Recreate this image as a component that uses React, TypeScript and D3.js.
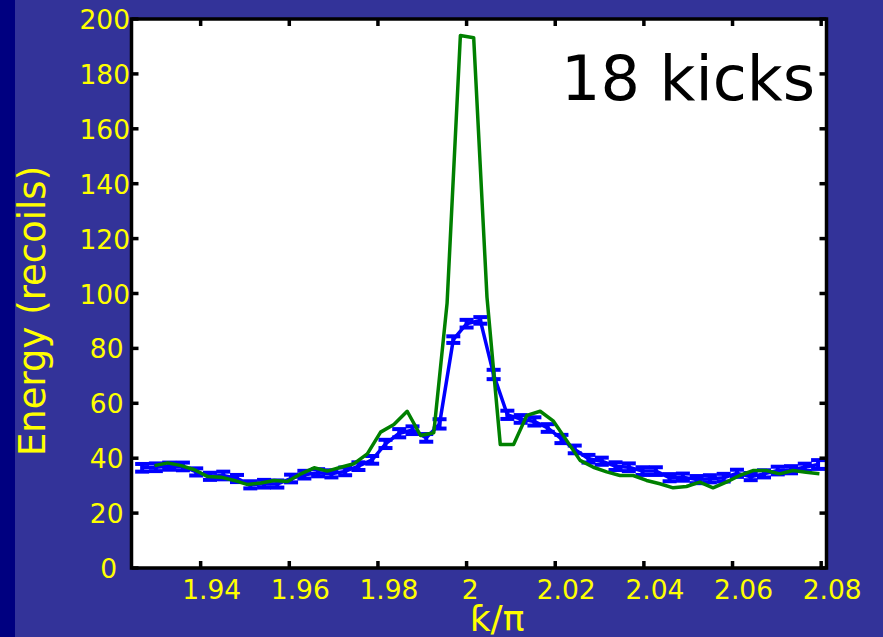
import React, { useRef, useEffect } from "react";
import * as d3 from "d3";

// measured data (blue, with error bars)
const blueKappa = [
  1.9268, 1.9299, 1.9329, 1.936, 1.939, 1.9421, 1.9451, 1.9482, 1.9512, 1.9543,
  1.9573, 1.9604, 1.9634, 1.9665, 1.9695, 1.9726, 1.9756, 1.9787, 1.9817, 1.9848,
  1.9878, 1.9909, 1.9939, 1.997, 2.0, 2.0031, 2.0061, 2.0092, 2.0122, 2.0153,
  2.0183, 2.0214, 2.0244, 2.0275, 2.0305, 2.0336, 2.0366, 2.0397, 2.0427, 2.0458,
  2.0488, 2.0519, 2.0549, 2.058, 2.061, 2.0641, 2.0671, 2.0702, 2.0732, 2.0763,
  2.0793,
];
const blueEnergy = [
  36.5, 36.7, 37.1, 37, 35, 33.4, 33.7, 32.6, 30.3, 30.7,
  30.6, 32.6, 34, 34.7, 34.3, 35.2, 37.1, 39.4, 45.2, 49.1,
  50.2, 47.4, 52.5, 83.2, 89, 90.2, 70.5, 55.8, 54.3, 53.4,
  51, 47, 43.2, 39.8, 38.9, 37.1, 36.7, 35.3, 35.3, 32.9,
  33.1, 32.2, 32.5, 32.9, 34.5, 33.3, 34.3, 35.5, 35.8, 36.7,
  37.7,
];
const blueError = [
  1.4, 1.4, 1.3, 1.4, 1.3, 1.3, 1.4, 1.3, 1.3, 1.4,
  1.3, 1.4, 1.4, 1.3, 1.3, 1.4, 1.4, 1.4, 1.5, 1.5,
  1.4, 1.4, 1.7, 1.2, 1.4, 1.2, 1.7, 1.5, 1.4, 1.5,
  1.4, 1.5, 1.4, 1.4, 1.3, 1.4, 1.4, 1.4, 1.4, 1.3,
  1.3, 1.3, 1.3, 1.4, 1.3, 1.3, 1.3, 1.4, 1.3, 1.3,
  1.6,
];

// simulation (green line)
const greenKappa = [
  1.9296, 1.9326, 1.9356, 1.9386, 1.9416, 1.9446, 1.9476, 1.9506, 1.9536, 1.9566,
  1.9596, 1.9626, 1.9656, 1.9686, 1.9716, 1.9746, 1.9776, 1.9806, 1.9836, 1.9866,
  1.9896, 1.9926, 1.9956, 1.9986, 2.0016, 2.0046, 2.0076, 2.0106, 2.0136, 2.0166,
  2.0196, 2.0226, 2.0256, 2.0286, 2.0316, 2.0346, 2.0376, 2.0406, 2.0436, 2.0466,
  2.0496, 2.0526, 2.0556, 2.0586, 2.0616, 2.0646, 2.0676, 2.0706, 2.0736, 2.0766,
  2.0796,
];
const greenEnergy = [
  37.3, 38.3, 37.3, 35.8, 33.3, 33.1, 31.9, 30.4, 31, 31.9,
  31.5, 34.3, 36.5, 35.3, 36.7, 38, 41.6, 49.5, 52.3, 57.1,
  48.3, 49.3, 96.5, 194, 193.2, 98.7, 45, 45, 55.6, 57.1,
  53.5, 46.4, 39.2, 36.7, 35, 33.7, 33.7, 31.9, 30.7, 29.2,
  29.7, 31.3, 29.2, 31.3, 33.7, 35.5, 35.5, 34.3, 35.5, 34.9,
  34.3,
];

const xTicks = [1.94, 1.96, 1.98, 2, 2.02, 2.04, 2.06, 2.08];
const yTicks = [0, 20, 40, 60, 80, 100, 120, 140, 160, 180, 200];

const W = 883;
const H = 637;
const FONT = "DejaVu Sans";

const App = () => {
  const ref = useRef<SVGSVGElement>(null);

  useEffect(() => {
    const svg = d3.select(ref.current);
    svg.selectAll("*").remove();

    const x = d3.scaleLinear().domain([1.9244, 2.0812]).range([131.5, 826.5]);
    const y = d3.scaleLinear().domain([0, 200]).range([568, 19]);

    // background
    svg.append("rect").attr("width", W).attr("height", H).attr("fill", "#333399");
    svg.append("rect").attr("width", 15).attr("height", H).attr("fill", "#000080");

    svg
      .append("rect")
      .attr("x", x.range()[0])
      .attr("y", y.range()[1])
      .attr("width", x.range()[1] - x.range()[0])
      .attr("height", y.range()[0] - y.range()[1])
      .attr("fill", "#ffffff");

    const plot = svg.append("g");

    // blue data with error bars
    const blue = blueKappa.map((k, i) => ({ k, e: blueEnergy[i], err: blueError[i] }));
    const line = d3
      .line<{ k: number; e: number }>()
      .x((d) => x(d.k))
      .y((d) => y(d.e));

    plot
      .append("path")
      .datum(blue)
      .attr("d", line)
      .attr("fill", "none")
      .attr("stroke", "#0000ff")
      .attr("stroke-width", 3.5);

    const bars = plot.append("g").attr("stroke", "#0000ff").attr("stroke-width", 4);
    blue.forEach((d) => {
      const cx = x(d.k);
      const y1 = y(d.e + d.err);
      const y0 = y(d.e - d.err);
      bars.append("line").attr("x1", cx).attr("x2", cx).attr("y1", y1).attr("y2", y0);
      bars.append("line").attr("x1", cx - 7).attr("x2", cx + 7).attr("y1", y1).attr("y2", y1);
      bars.append("line").attr("x1", cx - 7).attr("x2", cx + 7).attr("y1", y0).attr("y2", y0);
    });

    // green simulation
    const green = greenKappa.map((k, i) => ({ k, e: greenEnergy[i] }));
    plot
      .append("path")
      .datum(green)
      .attr("d", line)
      .attr("fill", "none")
      .attr("stroke", "#008000")
      .attr("stroke-width", 3.5)
      .attr("stroke-linejoin", "round");

    // ticks (inside, on all four sides)
    const [x0, x1] = x.range();
    const [yb, yt] = y.range();
    const tickLen = 7;
    const ticks = svg.append("g").attr("stroke", "#000").attr("stroke-width", 3.5);
    xTicks.forEach((t) => {
      ticks.append("line").attr("x1", x(t)).attr("x2", x(t)).attr("y1", yb).attr("y2", yb - tickLen);
      ticks.append("line").attr("x1", x(t)).attr("x2", x(t)).attr("y1", yt).attr("y2", yt + tickLen);
    });
    yTicks.forEach((t) => {
      ticks.append("line").attr("x1", x0).attr("x2", x0 + tickLen).attr("y1", y(t)).attr("y2", y(t));
      ticks.append("line").attr("x1", x1).attr("x2", x1 - tickLen).attr("y1", y(t)).attr("y2", y(t));
    });

    // box
    svg
      .append("rect")
      .attr("x", x0)
      .attr("y", yt)
      .attr("width", x1 - x0)
      .attr("height", yb - yt)
      .attr("fill", "none")
      .attr("stroke", "#000")
      .attr("stroke-width", 3.5);

    // tick labels
    xTicks.forEach((t) => {
      const label = String(t);
      svg
        .append("text")
        .attr("x", x(t) + (label.length > 1 ? 11 : 3.5))
        .attr("y", 599)
        .attr("text-anchor", "middle")
        .attr("font-family", FONT)
        .attr("font-size", 26.5)
        .attr("fill", "#ffff00")
        .text(label);
    });
    yTicks.forEach((t) => {
      const label = String(t);
      svg
        .append("text")
        .attr("x", 117 + 6.5 * (label.length - 1))
        .attr("y", y(t) + 10)
        .attr("text-anchor", "end")
        .attr("font-family", FONT)
        .attr("font-size", 26.5)
        .attr("fill", "#ffff00")
        .text(label);
    });

    // axis titles
    svg
      .append("text")
      .attr("transform", "translate(45, 311) rotate(-90)")
      .attr("text-anchor", "middle")
      .attr("font-family", FONT)
      .attr("font-size", 37)
      .attr("fill", "#ffff00")
      .text("Energy (recoils)");

    svg
      .append("text")
      .attr("x", 497)
      .attr("y", 631)
      .attr("text-anchor", "middle")
      .attr("font-family", FONT)
      .attr("font-size", 36)
      .attr("fill", "#ffff00")
      .text("ƙ/π");

    // annotation
    svg
      .append("text")
      .attr("x", 815)
      .attr("y", 100)
      .attr("text-anchor", "end")
      .attr("font-family", FONT)
      .attr("font-size", 62)
      .attr("fill", "#000")
      .text("18 kicks");

    return () => {
      svg.selectAll("*").remove();
    };
  }, []);

  return <svg ref={ref} width={W} height={H} style={{ position: "absolute", left: 0, top: 0 }} />;
};

export default App;
